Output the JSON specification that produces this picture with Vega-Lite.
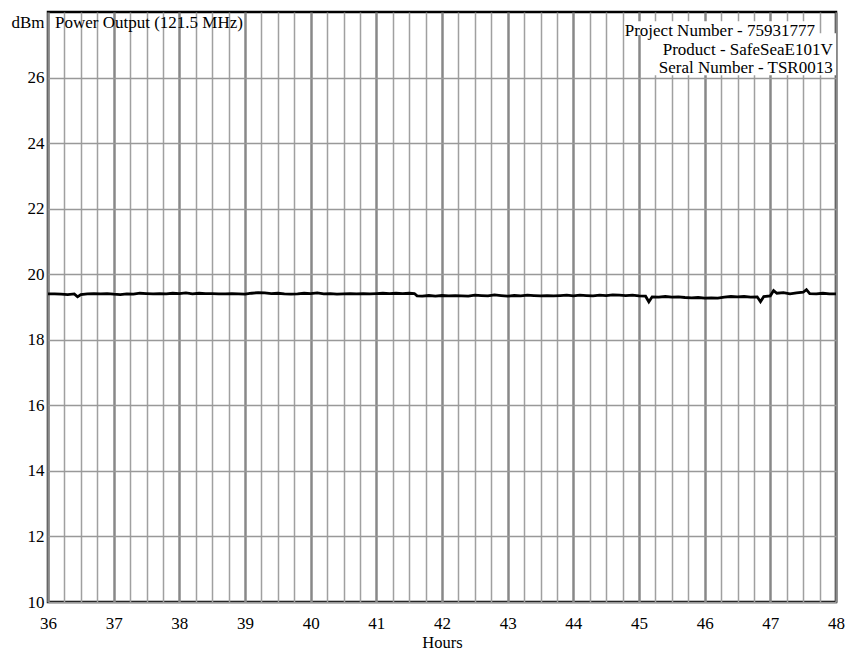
{
  "$schema": "https://vega.github.io/schema/vega-lite/v6.json",
  "width": 788,
  "height": 590,
  "autosize": {"type": "none"},
  "padding": {"left": 48, "top": 12, "right": 13, "bottom": 49},
  "background": "white",
  "config": {
    "font": "Liberation Serif",
    "view": {"stroke": "black", "strokeWidth": 2.5},
    "axis": {"labelFont": "Liberation Serif", "titleFont": "Liberation Serif", "labelFontSize": 17, "titleFontSize": 16.5, "labelColor": "black", "titleColor": "black", "titleFontWeight": "normal"}
  },
  "resolve": {"axis": {"x": "independent"}},
  "datasets": {
    "power": [
      {"h": 36.0, "v": 19.40}, {"h": 36.1, "v": 19.40}, {"h": 36.2, "v": 19.39}, {"h": 36.3, "v": 19.38},
      {"h": 36.4, "v": 19.40}, {"h": 36.45, "v": 19.31}, {"h": 36.5, "v": 19.38}, {"h": 36.6, "v": 19.40},
      {"h": 36.7, "v": 19.41}, {"h": 36.8, "v": 19.40}, {"h": 36.9, "v": 19.41}, {"h": 37.0, "v": 19.39},
      {"h": 37.1, "v": 19.38}, {"h": 37.2, "v": 19.40}, {"h": 37.3, "v": 19.39}, {"h": 37.4, "v": 19.42},
      {"h": 37.5, "v": 19.41}, {"h": 37.6, "v": 19.40}, {"h": 37.7, "v": 19.41}, {"h": 37.8, "v": 19.40},
      {"h": 37.9, "v": 19.42}, {"h": 38.0, "v": 19.41}, {"h": 38.1, "v": 19.43}, {"h": 38.2, "v": 19.40},
      {"h": 38.3, "v": 19.42}, {"h": 38.4, "v": 19.41}, {"h": 38.5, "v": 19.41}, {"h": 38.6, "v": 19.40},
      {"h": 38.7, "v": 19.40}, {"h": 38.8, "v": 19.41}, {"h": 38.9, "v": 19.40}, {"h": 39.0, "v": 19.39},
      {"h": 39.1, "v": 19.42}, {"h": 39.2, "v": 19.44}, {"h": 39.3, "v": 19.43}, {"h": 39.4, "v": 19.41},
      {"h": 39.5, "v": 19.42}, {"h": 39.6, "v": 19.40}, {"h": 39.7, "v": 19.39}, {"h": 39.8, "v": 19.40},
      {"h": 39.9, "v": 19.42}, {"h": 40.0, "v": 19.41}, {"h": 40.1, "v": 19.43}, {"h": 40.2, "v": 19.40},
      {"h": 40.3, "v": 19.41}, {"h": 40.4, "v": 19.39}, {"h": 40.5, "v": 19.40}, {"h": 40.6, "v": 19.41},
      {"h": 40.7, "v": 19.40}, {"h": 40.8, "v": 19.41}, {"h": 40.9, "v": 19.40}, {"h": 41.0, "v": 19.41},
      {"h": 41.1, "v": 19.42}, {"h": 41.2, "v": 19.41}, {"h": 41.3, "v": 19.42}, {"h": 41.4, "v": 19.41},
      {"h": 41.5, "v": 19.42}, {"h": 41.58, "v": 19.41}, {"h": 41.62, "v": 19.34}, {"h": 41.7, "v": 19.33},
      {"h": 41.8, "v": 19.35}, {"h": 41.9, "v": 19.33}, {"h": 42.0, "v": 19.35}, {"h": 42.1, "v": 19.34},
      {"h": 42.2, "v": 19.35}, {"h": 42.3, "v": 19.34}, {"h": 42.4, "v": 19.33}, {"h": 42.5, "v": 19.36},
      {"h": 42.6, "v": 19.35}, {"h": 42.7, "v": 19.34}, {"h": 42.8, "v": 19.37}, {"h": 42.9, "v": 19.35},
      {"h": 43.0, "v": 19.33}, {"h": 43.1, "v": 19.35}, {"h": 43.2, "v": 19.34}, {"h": 43.3, "v": 19.36},
      {"h": 43.4, "v": 19.35}, {"h": 43.5, "v": 19.34}, {"h": 43.6, "v": 19.35}, {"h": 43.7, "v": 19.34},
      {"h": 43.8, "v": 19.35}, {"h": 43.9, "v": 19.36}, {"h": 44.0, "v": 19.34}, {"h": 44.1, "v": 19.36},
      {"h": 44.2, "v": 19.35}, {"h": 44.3, "v": 19.34}, {"h": 44.4, "v": 19.36}, {"h": 44.5, "v": 19.35},
      {"h": 44.6, "v": 19.37}, {"h": 44.7, "v": 19.36}, {"h": 44.8, "v": 19.35}, {"h": 44.9, "v": 19.36},
      {"h": 45.0, "v": 19.34}, {"h": 45.1, "v": 19.33}, {"h": 45.15, "v": 19.16}, {"h": 45.2, "v": 19.31},
      {"h": 45.3, "v": 19.30}, {"h": 45.4, "v": 19.32}, {"h": 45.5, "v": 19.30}, {"h": 45.6, "v": 19.31},
      {"h": 45.7, "v": 19.29}, {"h": 45.8, "v": 19.28}, {"h": 45.9, "v": 19.29}, {"h": 46.0, "v": 19.27},
      {"h": 46.1, "v": 19.28}, {"h": 46.2, "v": 19.27}, {"h": 46.3, "v": 19.30}, {"h": 46.4, "v": 19.32},
      {"h": 46.5, "v": 19.31}, {"h": 46.6, "v": 19.32}, {"h": 46.7, "v": 19.30}, {"h": 46.8, "v": 19.31},
      {"h": 46.85, "v": 19.16}, {"h": 46.9, "v": 19.32}, {"h": 47.0, "v": 19.34}, {"h": 47.05, "v": 19.50},
      {"h": 47.1, "v": 19.42}, {"h": 47.2, "v": 19.44}, {"h": 47.3, "v": 19.40}, {"h": 47.4, "v": 19.43},
      {"h": 47.5, "v": 19.45}, {"h": 47.55, "v": 19.53}, {"h": 47.6, "v": 19.41}, {"h": 47.7, "v": 19.40},
      {"h": 47.8, "v": 19.42}, {"h": 47.9, "v": 19.40}, {"h": 48.0, "v": 19.40}
    ],
    "boxes": [
      {"h": 44.78, "h2": 47.70, "v": 27.30, "v2": 27.72},
      {"h": 45.13, "h2": 48.0, "v": 26.07, "v2": 27.35}
    ],
    "leftLabels": [
      {"h": 36.107, "v": 27.50, "t": "Power Output (121.5 MHz)"}
    ],
    "rightLabels": [
      {"h": 47.68, "v": 27.28, "t": "Project Number - 75931777"},
      {"h": 47.95, "v": 26.70, "t": "Product - SafeSeaE101V"},
      {"h": 47.95, "v": 26.15, "t": "Seral Number - TSR0013"}
    ]
  },
  "layer": [
    {
      "data": {"name": "power"},
      "mark": {"type": "line", "color": "black", "opacity": 0},
      "encoding": {
        "x": {
          "field": "h", "type": "quantitative",
          "scale": {"domain": [36, 48], "nice": false, "zero": false},
          "axis": {
            "orient": "top", "title": null, "labels": false, "ticks": false, "domain": false,
            "values": [36.25, 36.5, 36.75, 37.25, 37.5, 37.75, 38.25, 38.5, 38.75, 39.25, 39.5, 39.75, 40.25, 40.5, 40.75, 41.25, 41.5, 41.75, 42.25, 42.5, 42.75, 43.25, 43.5, 43.75, 44.25, 44.5, 44.75, 45.25, 45.5, 45.75, 46.25, 46.5, 46.75, 47.25, 47.5, 47.75],
            "grid": true, "gridColor": "#a0a0a0", "gridWidth": 1.5
          }
        },
        "y": {
          "field": "v", "type": "quantitative",
          "scale": {"domain": [10, 28], "nice": false, "zero": false},
          "axis": {
            "title": "dBm", "titleAngle": 0, "titleAlign": "right", "titleBaseline": "alphabetic",
            "titleX": -4, "titleY": 15, "titleFontSize": 17,
            "values": [10, 12, 14, 16, 18, 20, 22, 24, 26],
            "ticks": false, "domain": false, "labelPadding": 4,
            "grid": true, "gridColor": "#999999", "gridWidth": 1.5
          }
        }
      }
    },
    {
      "data": {"name": "power"},
      "mark": {"type": "line", "color": "black", "strokeWidth": 2.8, "clip": true},
      "encoding": {
        "x": {
          "field": "h", "type": "quantitative",
          "axis": {
            "orient": "bottom", "title": "Hours", "titlePadding": 3,
            "values": [36, 37, 38, 39, 40, 41, 42, 43, 44, 45, 46, 47, 48],
            "format": "d", "labelFlush": false, "labelPadding": 13,
            "ticks": false, "domain": false,
            "grid": true, "gridColor": "#888888", "gridWidth": 2.5
          }
        },
        "y": {"field": "v", "type": "quantitative"}
      }
    },
    {
      "data": {"name": "boxes"},
      "mark": {"type": "rect", "color": "white"},
      "encoding": {
        "x": {"field": "h", "type": "quantitative", "axis": null},
        "x2": {"field": "h2"},
        "y": {"field": "v", "type": "quantitative"},
        "y2": {"field": "v2"}
      }
    },
    {
      "data": {"name": "leftLabels"},
      "mark": {"type": "text", "fontSize": 17, "font": "Liberation Serif", "color": "black", "baseline": "alphabetic", "align": "left"},
      "encoding": {
        "x": {"field": "h", "type": "quantitative", "axis": null},
        "y": {"field": "v", "type": "quantitative"},
        "text": {"field": "t"}
      }
    },
    {
      "data": {"name": "rightLabels"},
      "mark": {"type": "text", "fontSize": 17, "font": "Liberation Serif", "color": "black", "baseline": "alphabetic", "align": "right"},
      "encoding": {
        "x": {"field": "h", "type": "quantitative", "axis": null},
        "y": {"field": "v", "type": "quantitative"},
        "text": {"field": "t"}
      }
    }
  ]
}
